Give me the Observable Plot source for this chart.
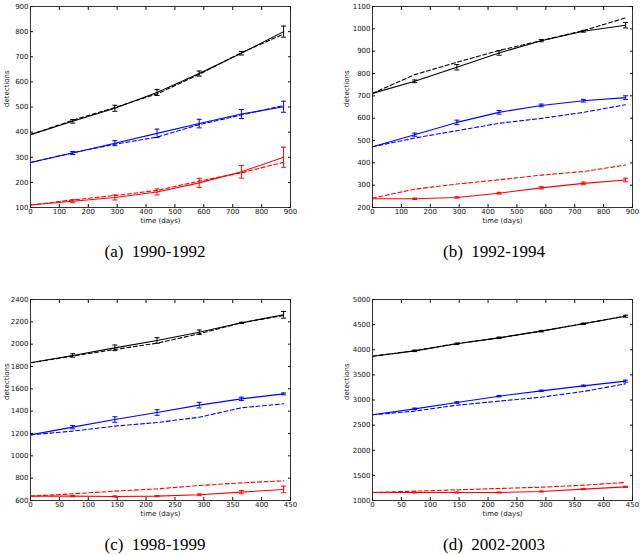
<!DOCTYPE html>
<html>
<head>
<meta charset="utf-8">
<script src="https://cdn.jsdelivr.net/npm/d3@7"></script>
<script src="https://cdn.jsdelivr.net/npm/@observablehq/plot@0.6"></script>
<style>
  body { margin: 0; background: #fff; }
  #chart { position: relative; width: 640px; height: 555px; }
  .cell { position: absolute; width: 320px; height: 230px; }
  .cap { position: absolute; font-family: "Liberation Serif", "DejaVu Serif", serif; font-size: 17px;
         line-height: 20px; white-space: pre; transform: translateX(-50%); }
</style>
</head>
<body>
<div id="chart"></div>
<script>
// sampling times (days)
const daysLong = [0, 146, 292, 438, 584, 730, 876];
const daysShort = [0, 73, 146, 219, 292, 365, 438];

// (a) 1990-1992
const aBlack = [390, 443, 495, 558, 633, 714, 800];
const aBlackErr = [0, 7, 12, 12, 10, 7, 22];
const aBlackDash = [390, 447, 498, 552, 630, 716, 790];
const aBlue = [279, 317, 356, 395, 434, 472, 501];
const aBlueErr = [0, 6, 10, 17, 17, 18, 22];
const aBlueDash = [279, 318, 352, 380, 430, 468, 506];
const aRed = [110, 125, 140, 162, 198, 242, 300];
const aRedErr = [0, 6, 10, 12, 18, 25, 40];
const aRedDash = [110, 130, 148, 168, 205, 238, 280];

// (b) 1992-1994
const bBlack = [711, 765, 828, 892, 947, 989, 1016];
const bBlackErr = [0, 6, 12, 10, 5, 4, 12];
const bBlackDash = [711, 795, 850, 903, 947, 992, 1049];
const bBlue = [472, 526, 581, 626, 657, 678, 692];
const bBlueErr = [0, 7, 10, 8, 6, 6, 8];
const bBlueDash = [472, 511, 544, 577, 599, 626, 660];
const bRed = [239, 239, 245, 264, 288, 308, 323];
const bRedErr = [0, 3, 3, 4, 5, 6, 8];
const bRedDash = [242, 282, 305, 324, 345, 361, 390];

// (c) 1998-1999
const cBlack = [1833, 1899, 1967, 2033, 2107, 2191, 2263];
const cBlackErr = [0, 15, 25, 25, 20, 5, 30];
const cBlackDash = [1833, 1893, 1952, 2009, 2093, 2191, 2257];
const cBlue = [1188, 1257, 1325, 1388, 1454, 1510, 1555];
const cBlueErr = [0, 15, 25, 25, 25, 15, 8];
const cBlueDash = [1188, 1221, 1266, 1298, 1346, 1430, 1466];
const cRed = [639, 639, 636, 639, 651, 675, 699];
const cRedErr = [0, 5, 5, 5, 8, 15, 30];
const cRedDash = [639, 660, 684, 704, 734, 758, 776];

// (d) 2002-2003
const dBlack = [3872, 3978, 4118, 4237, 4370, 4516, 4668];
const dBlackErr = [0, 15, 15, 15, 15, 15, 20];
const dBlackDash = [3872, 3980, 4125, 4235, 4372, 4520, 4672];
const dBlue = [2705, 2824, 2950, 3076, 3182, 3282, 3375];
const dBlueErr = [0, 15, 15, 15, 15, 15, 20];
const dBlueDash = [2705, 2778, 2897, 2977, 3056, 3169, 3322];
const dRed = [1159, 1159, 1159, 1159, 1179, 1226, 1272];
const dRedErr = [0, 10, 10, 10, 10, 10, 12];
const dRedDash = [1159, 1186, 1212, 1239, 1265, 1305, 1358];

// axis ticks
const xTicksLong = [0, 100, 200, 300, 400, 500, 600, 700, 800, 900];
const xTicksShort = [0, 50, 100, 150, 200, 250, 300, 350, 400, 450];
const aYTicks = [100, 200, 300, 400, 500, 600, 700, 800, 900];
const bYTicks = [200, 300, 400, 500, 600, 700, 800, 900, 1000, 1100];
const cYTicks = [600, 800, 1000, 1200, 1400, 1600, 1800, 2000, 2200, 2400];
const dYTicks = [1000, 1500, 2000, 2500, 3000, 3500, 4000, 4500, 5000];

const panels = [
  {label: "(a)", years: "1990-1992", days: daysLong, xTicks: xTicksLong, yTicks: aYTicks,
   series: [["black", aBlack, aBlackErr, aBlackDash], ["blue", aBlue, aBlueErr, aBlueDash], ["red", aRed, aRedErr, aRedDash]],
   left: 0, top: 0, ml: 30, mr: 30, capX: 155, capY: 242},
  {label: "(b)", years: "1992-1994", days: daysLong, xTicks: xTicksLong, yTicks: bYTicks,
   series: [["black", bBlack, bBlackErr, bBlackDash], ["blue", bBlue, bBlueErr, bBlueDash], ["red", bRed, bRedErr, bRedDash]],
   left: 320, top: 0, ml: 52, mr: 8, capX: 494, capY: 242},
  {label: "(c)", years: "1998-1999", days: daysShort, xTicks: xTicksShort, yTicks: cYTicks,
   series: [["black", cBlack, cBlackErr, cBlackDash], ["blue", cBlue, cBlueErr, cBlueDash], ["red", cRed, cRedErr, cRedDash]],
   left: 0, top: 293, ml: 30, mr: 30, capX: 155, capY: 535},
  {label: "(d)", years: "2002-2003", days: daysShort, xTicks: xTicksShort, yTicks: dYTicks,
   series: [["black", dBlack, dBlackErr, dBlackDash], ["blue", dBlue, dBlueErr, dBlueDash], ["red", dRed, dRedErr, dRedDash]],
   left: 320, top: 293, ml: 52, mr: 8, capX: 494, capY: 535}
];

// horizontal cap for error bars
const cap = {draw(ctx, size) { const r = Math.sqrt(size / Math.PI); ctx.moveTo(-r, 0); ctx.lineTo(r, 0); }};
const plain = d3.format("d");

const root = d3.select("#chart");

panels.forEach(p => {
  const rows = [];
  p.series.forEach(([color, obs, err, model]) => {
    p.days.forEach((day, i) => rows.push({day, value: obs[i], err: err[i], model: model[i], color}));
  });
  const bars = rows.filter(d => d.err > 0);

  const chart = Plot.plot({
    width: 320,
    height: 230,
    marginLeft: p.ml,
    marginRight: p.mr,
    marginTop: 6,
    marginBottom: 23,
    style: {fontFamily: "DejaVu Sans, sans-serif", fontSize: "7px", color: "#111"},
    x: {domain: [p.xTicks[0], p.xTicks[p.xTicks.length - 1]]},
    y: {domain: [p.yTicks[0], p.yTicks[p.yTicks.length - 1]]},
    marks: [
      Plot.line(rows, {x: "day", y: "model", z: "color", stroke: "color", strokeWidth: 1.1, strokeDasharray: "4,2.5"}),
      Plot.line(rows, {x: "day", y: "value", z: "color", stroke: "color", strokeWidth: 1.1}),
      Plot.ruleX(bars, {x: "day", y1: d => d.value - d.err, y2: d => d.value + d.err, stroke: "color", strokeWidth: 1}),
      Plot.dot(bars, {x: "day", y: d => d.value - d.err, symbol: cap, r: 2.5, stroke: "color", strokeWidth: 1}),
      Plot.dot(bars, {x: "day", y: d => d.value + d.err, symbol: cap, r: 2.5, stroke: "color", strokeWidth: 1}),
      Plot.frame({stroke: "#333"}),
      Plot.axisX(p.xTicks, {anchor: "bottom", tickSize: -3, tickPadding: 5, tickFormat: plain, label: null}),
      Plot.axisX(p.xTicks, {anchor: "top", tickSize: -3, tickFormat: () => "", label: null}),
      Plot.axisY(p.yTicks, {anchor: "left", tickSize: -3, tickPadding: 5, tickFormat: plain, label: null}),
      Plot.axisY(p.yTicks, {anchor: "right", tickSize: -3, tickFormat: () => "", label: null}),
      Plot.text(["time (days)"], {frameAnchor: "bottom", dy: 15, fill: "#111"}),
      Plot.text(["detections"], {frameAnchor: "left", rotate: -90, dx: p.ml === 30 ? -24 : -26, fill: "#111"})
    ]
  });

  root.append("div").attr("class", "cell")
    .style("left", p.left + "px").style("top", p.top + "px")
    .append(() => chart);

  root.append("div").attr("class", "cap")
    .style("left", p.capX + "px").style("top", p.capY + "px")
    .text(p.label + "  " + p.years);
});
</script>
</body>
</html>
